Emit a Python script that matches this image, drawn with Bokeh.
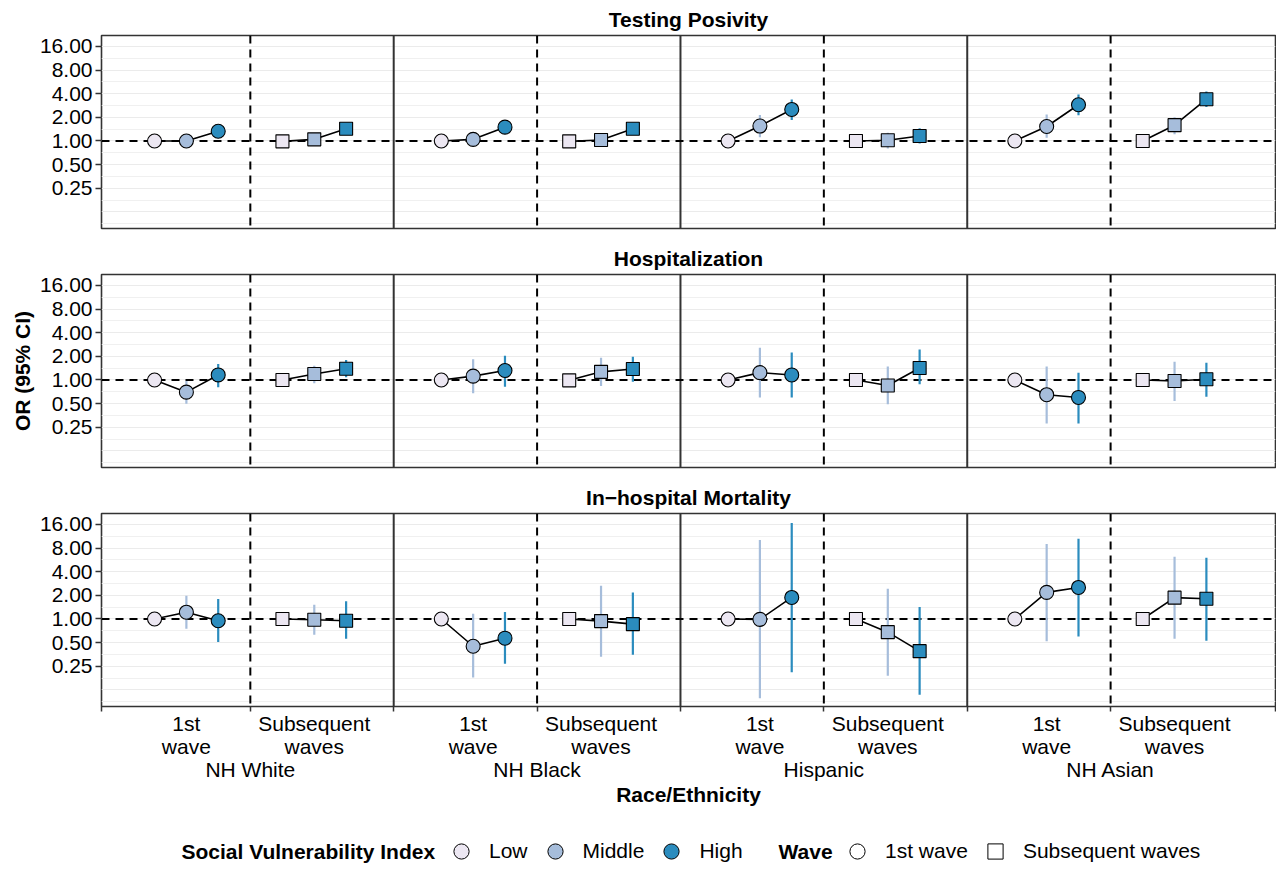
from bokeh.plotting import figure
from bokeh.models import (Range1d, FixedTicker, Span, ColumnDataSource, Legend, LegendItem,
                          CustomJSTickFormatter, PrintfTickFormatter, LinearAxis, Label,
                          CDSView, GroupFilter)
from bokeh.layouts import column
from bokeh.embed import file_html
from bokeh.resources import INLINE

# ---------------- data ----------------
races = ["NH White", "NH Black", "Hispanic", "NH Asian"]
waves = ["1st wave", "Subsequent waves"]
svi_levels = ["Low", "Middle", "High"]
wave_tick_labels = ["1st\nwave", "Subsequent\nwaves"]
outcome_titles = ["Testing Posivity", "Hospitalization", "In\u2212hospital Mortality"]
y_tick_values = [0.25, 0.5, 1, 2, 4, 8, 16]

# order of the 24 values: race -> wave -> SVI (Low, Middle, High)
testing_or = [1.00, 1.00, 1.33,  0.99, 1.05, 1.43,
              1.00, 1.05, 1.50,  0.99, 1.03, 1.43,
              1.00, 1.55, 2.52,  1.00, 1.02, 1.16,
              1.00, 1.53, 2.89,  1.00, 1.59, 3.40]
testing_lo = [1.00, 0.97, 1.27,  0.99, 1.01, 1.37,
              1.00, 1.00, 1.42,  0.99, 0.93, 1.36,
              1.00, 1.12, 1.85,  1.00, 0.80, 0.93,
              1.00, 1.10, 2.12,  1.00, 1.22, 2.70]
testing_hi = [1.00, 1.03, 1.40,  0.99, 1.09, 1.50,
              1.00, 1.10, 1.58,  0.99, 1.12, 1.50,
              1.00, 2.14, 3.38,  1.00, 1.27, 1.45,
              1.00, 2.18, 3.90,  1.00, 2.01, 4.26]

hosp_or = [1.00, 0.70, 1.16,  1.00, 1.19, 1.39,
           1.00, 1.12, 1.32,  0.99, 1.27, 1.38,
           1.00, 1.24, 1.16,  1.00, 0.85, 1.42,
           1.00, 0.65, 0.60,  1.00, 0.97, 1.02]
hosp_lo = [1.00, 0.50, 0.81,  1.00, 0.91, 1.08,
           1.00, 0.68, 0.82,  0.99, 0.84, 0.95,
           1.00, 0.60, 0.60,  1.00, 0.49, 0.88,
           1.00, 0.28, 0.28,  1.00, 0.54, 0.61]
hosp_hi = [1.00, 0.97, 1.60,  1.00, 1.52, 1.79,
           1.00, 1.84, 2.03,  0.99, 1.92, 1.98,
           1.00, 2.57, 2.23,  1.00, 1.49, 2.45,
           1.00, 1.48, 1.24,  1.00, 1.71, 1.66]

mort_or = [1.00, 1.22, 0.95,  1.00, 0.98, 0.95,
           1.00, 0.45, 0.57,  1.00, 0.94, 0.86,
           1.00, 0.99, 1.88,  1.00, 0.68, 0.39,
           1.00, 2.18, 2.52,  1.00, 1.87, 1.81]
mort_lo = [1.00, 0.75, 0.51,  1.00, 0.63, 0.56,
           1.00, 0.18, 0.27,  1.00, 0.33, 0.35,
           1.00, 0.098, 0.21, 1.00, 0.19, 0.109,
           1.00, 0.52, 0.60,  1.00, 0.56, 0.53]
mort_hi = [1.00, 1.98, 1.79,  1.00, 1.52, 1.68,
           1.00, 1.17, 1.23,  1.00, 2.65, 2.18,
           1.00, 10.1, 16.6,  1.00, 2.43, 1.42,
           1.00, 9.0, 10.5,   1.00, 6.2, 6.0]

# ---------------- styling / layout constants ----------------
FONT = "Liberation Sans"
FS = "21px"
SVI_COLORS = {"Low": "#ECE7F2", "Middle": "#A6BDDB", "High": "#2B8CBE"}
WAVE_MARKERS = {"1st wave": "circle", "Subsequent waves": "square"}
WAVE_SIZE = {"1st wave": 14, "Subsequent waves": 13}
WAVE_OFFSET = {"1st wave": -0.223, "Subsequent waves": 0.223}
SVI_OFFSET = {"Low": -0.111, "Middle": 0.0, "High": 0.111}
X_LO, X_HI = 0.481, 4.575
Y_LO, Y_HI = 0.077, 22.0
W = 1276
FRAME_LEFT = 101

race_pos = [i + 1 for i in range(len(races))]
records = [(rp, w, s) for rp in race_pos for w in waves for s in svi_levels]
rec_x = [rp + WAVE_OFFSET[w] + SVI_OFFSET[s] for (rp, w, s) in records]
rec_svi = [s for (_, _, s) in records]
rec_wave = [w for (_, w, _) in records]
wave_centers = [rp + WAVE_OFFSET[w] for rp in race_pos for w in waves]
separators = [rp + 0.5 for rp in race_pos[:-1]]
boundaries = sorted([X_LO] + race_pos + separators + [X_HI])

grid_major = [2.0 ** k for k in range(-3, 5)]
grid_minor = [2.0 ** (k + 0.5) for k in range(-4, 5)]


def make_panel(title, or_vals, lo_vals, hi_vals, height, bottom=False, ylabel=None):
    p = figure(width=W, height=height, x_range=Range1d(X_LO, X_HI),
               y_range=Range1d(Y_LO, Y_HI), y_axis_type="log",
               output_backend="svg", toolbar_location=None,
               min_border_left=FRAME_LEFT, min_border_right=1, min_border_top=34,
               min_border_bottom=(126 if bottom else 11))
    p.title.text = title
    p.title.align = "center"
    p.title.text_font = FONT
    p.title.text_font_size = FS
    p.title.text_font_style = "bold"
    p.title.text_color = "black"
    p.title.standoff = 10
    p.outline_line_color = "#333333"
    p.outline_line_width = 1.6
    p.background_fill_color = "white"

    # grid
    p.xgrid.visible = False
    p.ygrid.ticker = FixedTicker(ticks=grid_major, minor_ticks=grid_minor)
    p.ygrid.grid_line_color = "#EBEBEB"
    p.ygrid.grid_line_width = 1.2
    p.ygrid.minor_grid_line_color = "#F0F0F0"
    p.ygrid.minor_grid_line_width = 1.0

    # y axis
    ya = p.yaxis[0]
    ya.ticker = FixedTicker(ticks=y_tick_values)
    ya.formatter = PrintfTickFormatter(format="%.2f")
    ya.axis_line_color = None
    ya.major_tick_line_color = "#333333"
    ya.major_tick_line_width = 1.5
    ya.major_tick_out = 6
    ya.major_tick_in = 0
    ya.minor_tick_line_color = None
    ya.major_label_text_font = FONT
    ya.major_label_text_font_size = FS
    ya.major_label_text_color = "black"
    ya.major_label_standoff = 3
    if ylabel:
        ya.axis_label = ylabel
        ya.axis_label_text_font = FONT
        ya.axis_label_text_font_size = FS
        ya.axis_label_text_font_style = "bold"
        ya.axis_label_text_color = "black"
        ya.axis_label_standoff = 3

    # x axis
    xa = p.xaxis[0]
    if not bottom:
        xa.visible = False
    else:
        xa.ticker = FixedTicker(ticks=wave_centers, minor_ticks=boundaries)
        xa.formatter = CustomJSTickFormatter(args=dict(labels=wave_tick_labels * len(races)),
                                             code="return labels[index]")
        xa.axis_line_color = None
        xa.major_tick_line_color = None
        xa.major_tick_out = 4
        xa.major_tick_in = 0
        xa.minor_tick_line_color = "#333333"
        xa.minor_tick_line_width = 1.5
        xa.minor_tick_out = 5
        xa.minor_tick_in = 0
        xa.major_label_standoff = 0
        xa.major_label_text_font = FONT
        xa.major_label_text_font_size = FS
        xa.major_label_text_color = "black"
        xa.major_label_text_line_height = 1.0

        ra = LinearAxis(ticker=FixedTicker(ticks=race_pos),
                        formatter=CustomJSTickFormatter(args=dict(labels=races),
                                                        code="return labels[index]"))
        ra.axis_line_color = None
        ra.major_tick_line_color = None
        ra.minor_tick_line_color = None
        ra.major_tick_out = 0
        ra.major_tick_in = 0
        ra.major_label_standoff = -3
        ra.major_label_text_font = FONT
        ra.major_label_text_font_size = FS
        ra.major_label_text_color = "black"
        ra.axis_label = "Race/Ethnicity"
        ra.axis_label_text_font = FONT
        ra.axis_label_text_font_size = FS
        ra.axis_label_text_font_style = "bold"
        ra.axis_label_text_color = "black"
        ra.axis_label_standoff = -1
        p.add_layout(ra, "below")

    # reference lines
    for rp in race_pos:
        p.add_layout(Span(location=rp, dimension="height", line_color="black",
                          line_width=2, line_dash="8 6", level="underlay"))
    for sp in separators:
        p.add_layout(Span(location=sp, dimension="height", line_color="#333333",
                          line_width=2, level="underlay"))
    p.add_layout(Span(location=1.0, dimension="width", line_color="black",
                      line_width=2, line_dash="8 6", level="underlay"))

    # data
    src = ColumnDataSource(dict(
        x=rec_x, y=or_vals, lo=lo_vals, hi=hi_vals,
        color=[SVI_COLORS[s] for s in rec_svi],
        marker=[WAVE_MARKERS[w] for w in rec_wave],
        size=[WAVE_SIZE[w] for w in rec_wave],
    ))
    p.segment(x0="x", y0="lo", x1="x", y1="hi", line_color="color",
              line_width=2.2, source=src)
    n = len(svi_levels)
    p.multi_line(xs=[rec_x[i:i + n] for i in range(0, len(rec_x), n)],
                 ys=[or_vals[i:i + n] for i in range(0, len(or_vals), n)],
                 line_color="black", line_width=1.6)
    p.scatter(x="x", y="y", marker="marker", size="size", fill_color="color",
              line_color="black", line_width=1.1, source=src)
    return p


p1 = make_panel(outcome_titles[0], testing_or, testing_lo, testing_hi, 239)
p2 = make_panel(outcome_titles[1], hosp_or, hosp_lo, hosp_hi, 239, ylabel="OR (95% CI)")
p3 = make_panel(outcome_titles[2], mort_or, mort_lo, mort_hi, 354, bottom=True)

# ---------------- legend strip ----------------
# legend proxies reuse the real records; the strip's ranges keep them off-view
LEG_H = 38
leg = figure(width=W, height=LEG_H, x_range=Range1d(-2, -1), y_range=Range1d(-2, -1),
             output_backend="svg", toolbar_location=None, min_border=0,
             x_axis_location=None, y_axis_location=None)
leg.outline_line_color = None
leg.xgrid.visible = False
leg.ygrid.visible = False
leg_src = ColumnDataSource(dict(x=rec_x, y=mort_or, svi=rec_svi, wave=rec_wave))

svi_items = []
for lvl in svi_levels:
    r = leg.scatter(x="x", y="y", source=leg_src,
                    view=CDSView(filter=GroupFilter(column_name="svi", group=lvl)),
                    marker="circle", size=14, fill_color=SVI_COLORS[lvl],
                    line_color="black", line_width=1)
    svi_items.append(LegendItem(label=lvl, renderers=[r]))
wave_items = []
for w in waves:
    r = leg.scatter(x="x", y="y", source=leg_src,
                    view=CDSView(filter=GroupFilter(column_name="wave", group=w)),
                    marker=WAVE_MARKERS[w], size=14, fill_color="white",
                    line_color="black", line_width=1)
    wave_items.append(LegendItem(label=w, renderers=[r]))


def style_legend(lg):
    lg.orientation = "horizontal"
    lg.glyph_width = 38
    lg.glyph_height = 38
    lg.label_standoff = 9
    lg.spacing = 8
    lg.padding = 0
    lg.margin = 0
    lg.border_line_color = None
    lg.background_fill_alpha = 0
    lg.label_text_font = FONT
    lg.label_text_font_size = FS
    lg.label_text_color = "black"


# the strip's frame is aligned with the panels above (starts at FRAME_LEFT)
l1 = Legend(items=svi_items, location=(442 - FRAME_LEFT, 0))
l2 = Legend(items=wave_items, location=(838 - FRAME_LEFT, 0))
style_legend(l1)
style_legend(l2)
leg.add_layout(l1)
leg.add_layout(l2)
for txt, xpos in [("Social Vulnerability Index", 181), ("Wave", 778)]:
    leg.add_layout(Label(x=xpos - FRAME_LEFT, y=LEG_H / 2, x_units="screen", y_units="screen",
                         text=txt, text_font=FONT, text_font_size=FS, text_font_style="bold",
                         text_color="black", text_baseline="middle", text_align="left"))

layout = column(p1, p2, p3, leg)
open("out.html", "w").write(file_html(layout, INLINE))
